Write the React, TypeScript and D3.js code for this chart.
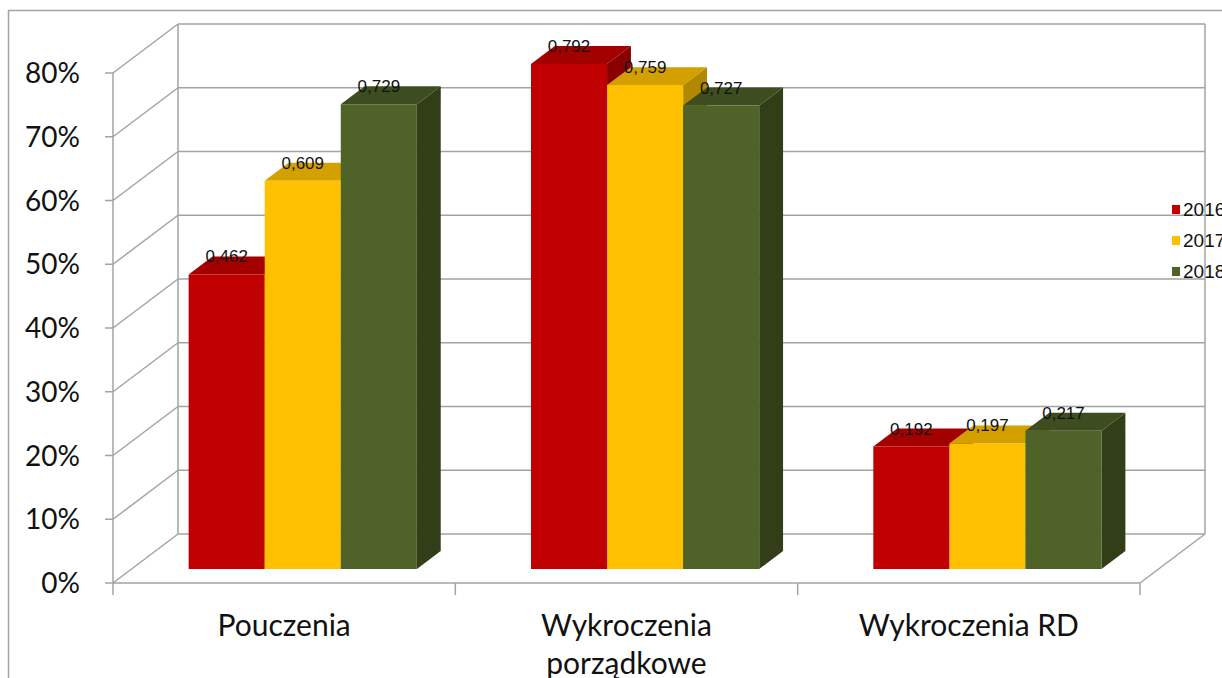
import React from "react";
import * as d3 from "d3";

const categories = ["Pouczenia", "Wykroczenia porządkowe", "Wykroczenia RD"];
const categoryLines = [["Pouczenia"], ["Wykroczenia", "porządkowe"], ["Wykroczenia RD"]];
const series = ["2016", "2017", "2018"];
const values2016 = [0.462, 0.792, 0.192];
const values2017 = [0.609, 0.759, 0.197];
const values2018 = [0.729, 0.727, 0.217];
const valueLabels2016 = ["0,462", "0,792", "0,192"];
const valueLabels2017 = ["0,609", "0,759", "0,197"];
const valueLabels2018 = ["0,729", "0,727", "0,217"];
const yTicks = [0, 0.1, 0.2, 0.3, 0.4, 0.5, 0.6, 0.7, 0.8];
const yTickLabels = ["0%", "10%", "20%", "30%", "40%", "50%", "60%", "70%", "80%"];

const seriesValues = [values2016, values2017, values2018];
const seriesLabels = [valueLabels2016, valueLabels2017, valueLabels2018];
const faceColors = [
  { front: "#C00000", top: "#A30000", side: "#8A0000" },
  { front: "#FFC000", top: "#D4A000", side: "#B38700" },
  { front: "#4F6228", top: "#3E4D1F", side: "#323E18" },
];

const W = 1222;
const H = 678;
const DX = 65;
const DY = 49;
const X0 = 113;
const X1 = 1140;
const D0 = 0.286;
const D1 = 0.653;
const GRID = "#A3A3A3";

export default function App() {
  const y = d3.scaleLinear().domain([0, 0.8]).range([583, 73]);
  const x0 = d3.scaleBand<string>().domain(categories).range([X0, X1]).padding(0);
  const bw = x0.bandwidth();
  const groupW = (bw * 3) / 4.5;
  const x1 = d3.scaleBand<string>().domain(series).range([0, groupW]).padding(0);
  const P = (x: number, v: number, d: number): [number, number] => [x + DX * d, y(v) - DY * d];
  const poly = (pts: [number, number][]) => pts.map((p) => p.join(",")).join(" ");

  const bars: React.ReactNode[] = [];
  const labels: React.ReactNode[] = [];
  categories.forEach((c, ci) => {
    const gx = (x0(c) as number) + (bw - groupW) / 2;
    series.forEach((s, si) => {
      const v = seriesValues[si][ci];
      const xl = gx + (x1(s) as number);
      const xr = xl + x1.bandwidth();
      const col = faceColors[si];
      const fbl = P(xl, 0, D0), fbr = P(xr, 0, D0), ftl = P(xl, v, D0), ftr = P(xr, v, D0);
      const bbr = P(xr, 0, D1), btl = P(xl, v, D1), btr = P(xr, v, D1);
      bars.push(
        <g key={`${ci}-${si}`}>
          <polygon points={poly([fbr, bbr, btr, ftr])} fill={col.side} />
          <polygon points={poly([ftl, ftr, btr, btl])} fill={col.top} />
          <polygon points={poly([fbl, fbr, ftr, ftl])} fill={col.front} />
        </g>
      );
      const lx = P((xl + xr) / 2, v, D0)[0];
      labels.push(
        <text key={`l${ci}-${si}`} x={lx} y={btl[1] + 6} textAnchor="middle"
          fontFamily="'Liberation Sans', Arial, sans-serif" fontSize={17} fill="#111">
          {seriesLabels[si][ci]}
        </text>
      );
    });
  });

  return (
    <div style={{ position: "absolute", left: 0, top: 0 }}>
      <svg width={W} height={H} style={{ display: "block", background: "#fff" }}>
        <rect x={8.5} y={10.5} width={W + 20} height={H + 20} fill="none" stroke={GRID} strokeWidth={1.5} />
        {yTicks.map((t, i) => {
          const a = P(X0, t, 1);
          const b = P(X1, t, 1);
          const f = P(X0, t, 0);
          return (
            <g key={`g${i}`}>
              <line x1={a[0]} y1={a[1]} x2={b[0]} y2={b[1]} stroke={GRID} strokeWidth={1.5} />
              <line x1={f[0]} y1={f[1]} x2={a[0]} y2={a[1]} stroke={GRID} strokeWidth={1.5} />
            </g>
          );
        })}
        <line x1={P(X0, 0, 1)[0]} y1={P(X0, 0, 1)[1]} x2={P(X0, 0.8, 1)[0]} y2={P(X0, 0.8, 1)[1]} stroke={GRID} strokeWidth={1.5} />
        <line x1={P(X1, 0, 1)[0]} y1={P(X1, 0, 1)[1]} x2={P(X1, 0.8, 1)[0]} y2={P(X1, 0.8, 1)[1]} stroke={GRID} strokeWidth={1.5} />
        <line x1={P(X1, 0, 0)[0]} y1={P(X1, 0, 0)[1]} x2={P(X1, 0, 1)[0]} y2={P(X1, 0, 1)[1]} stroke={GRID} strokeWidth={1.5} />
        <line x1={X0} y1={y(0.8)} x2={X0} y2={y(0)} stroke={GRID} strokeWidth={1.5} />
        <line x1={X0} y1={y(0)} x2={X1} y2={y(0)} stroke={GRID} strokeWidth={1.5} />
        {yTicks.map((t, i) => (
          <line key={`t${i}`} x1={X0 - 8} y1={y(t)} x2={X0} y2={y(t)} stroke={GRID} strokeWidth={1.5} />
        ))}
        {categories.map((c, i) => (
          <line key={`ct${i}`} x1={x0(c) as number} y1={y(0)} x2={x0(c) as number} y2={y(0) + 12} stroke={GRID} strokeWidth={1.5} />
        ))}
        <line x1={X1} y1={y(0)} x2={X1} y2={y(0) + 12} stroke={GRID} strokeWidth={1.5} />
        {bars}
        {labels}
        {yTicks.map((t, i) => (
          <text key={`yl${i}`} x={80} y={y(t) + 10} textAnchor="end" fontFamily="Lato, sans-serif" fontSize={28} fill="#111">
            {yTickLabels[i]}
          </text>
        ))}
        {categories.map((c, i) => (
          <text key={`cl${i}`} textAnchor="middle" fontFamily="Lato, sans-serif" fontSize={30} fill="#111">
            {categoryLines[i].map((ln, j) => (
              <tspan key={j} x={(x0(c) as number) + bw / 2} y={636 + j * 38}>{ln}</tspan>
            ))}
          </text>
        ))}
        {series.map((s, i) => (
          <g key={`lg${i}`}>
            <rect x={1172} y={205 + i * 31} width={8} height={9} fill={faceColors[i].front} />
            <text x={1183} y={216 + i * 31} fontFamily="'Liberation Sans', Arial, sans-serif" fontSize={19} fill="#111">{s}</text>
          </g>
        ))}
      </svg>
    </div>
  );
}
